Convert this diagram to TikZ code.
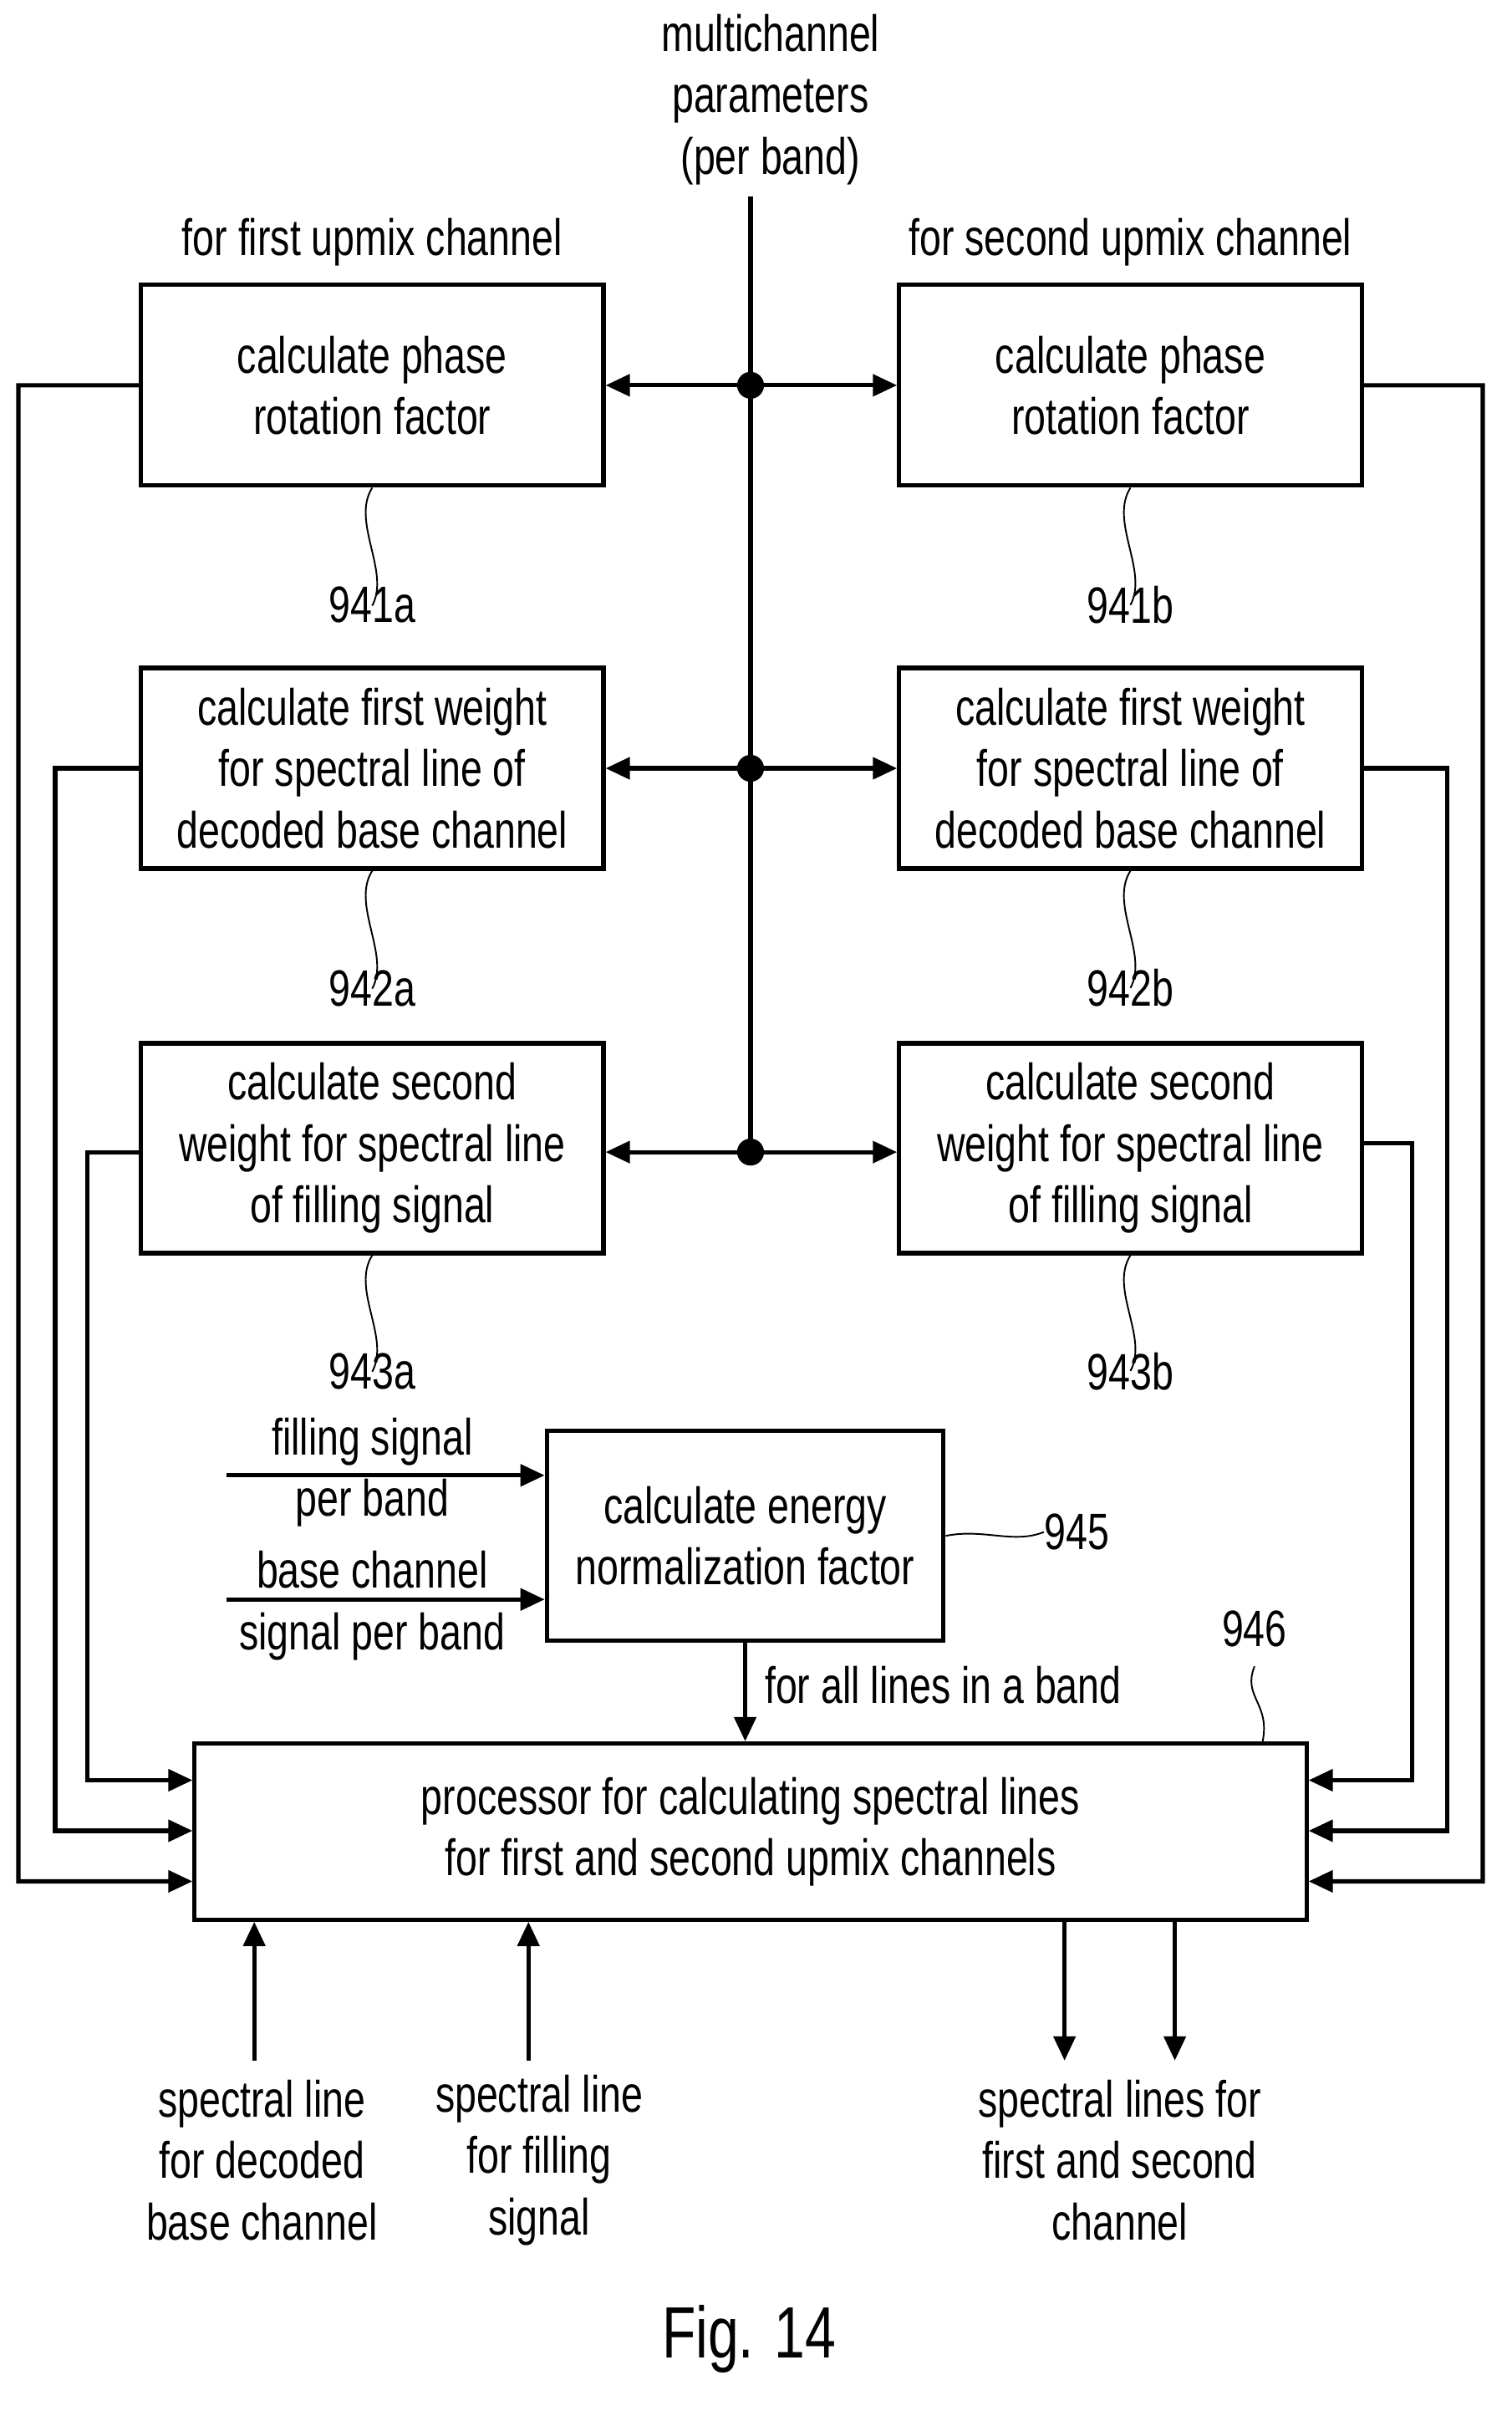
\documentclass[tikz,border=0pt]{standalone}
\usepackage{fontspec}
\setmainfont{Liberation Sans}[FakeStretch=0.76]
\usetikzlibrary{calc,arrows.meta}
\tikzset{
  box/.style={draw, line width=1.6pt, minimum width=6.04cm, align=center, inner sep=0pt},
  lbl/.style={align=center, inner sep=0pt},
  sig/.style={line width=1.6pt},
  arr/.style={line width=1.6pt, -{Triangle[length=9pt,width=8pt]}},
  darr/.style={line width=1.6pt, {Triangle[length=9pt,width=8pt]}-{Triangle[length=9pt,width=8pt]}},
  ref/.style={line width=0.6pt},
}
\begin{document}
\begin{tikzpicture}[x=0.02cm, y=-0.02cm, font=\fontsize{19}{22.8}\selectfont]
		\useasboundingbox (0,0) rectangle (987,1577);
		% Inputs at top
		\node[lbl] (mcp) at (503,65) {multichannel\\parameters\\(per band)} ;
		\node[lbl] (first) at (243,158) {for first upmix channel} ;
		\node[lbl] (second) at (738,158) {for second upmix channel} ;
		% Left column
		\node[box, minimum height=2.62cm] (rotA) at (243,251.5) {calculate phase\\rotation factor} ;
		\node[box, minimum height=2.62cm] (wOneA) at (243,501.5) {calculate first weight\\for spectral line of\\decoded base channel} ;
		\node[box, minimum height=2.74cm] (wTwoA) at (243,749.5) {calculate second\\weight for spectral line\\of filling signal} ;
		% Right column
		\node[box, minimum height=2.62cm] (rotB) at (738,251.5) {calculate phase\\rotation factor} ;
		\node[box, minimum height=2.62cm] (wOneB) at (738,501.5) {calculate first weight\\for spectral line of\\decoded base channel} ;
		\node[box, minimum height=2.74cm] (wTwoB) at (738,749.5) {calculate second\\weight for spectral line\\of filling signal} ;
		% Reference numerals
		\node[lbl] (n941a) at (243,395) {941a} ;
		\node[lbl] (n942a) at (243,645) {942a} ;
		\node[lbl] (n943a) at (243,895) {943a} ;
		\node[lbl] (n941b) at (738,395) {941b} ;
		\node[lbl] (n942b) at (738,645) {942b} ;
		\node[lbl] (n943b) at (738,895) {943b} ;
		\foreach \b/\n in {rotA/n941a, wOneA/n942a, wTwoA/n943a, rotB/n941b, wOneB/n942b, wTwoB/n943b}
			\draw[ref] (\b.south) .. controls +(-14,22) and +(12,-22) .. ([yshift=-0.25cm]\n.north) ;
		% Energy normalization
		\node[box, minimum width=5.18cm, minimum height=2.74cm] (energy) at (486.5,1002.5) {calculate energy\\normalization factor} ;
		\node[lbl] (fill) at (243,961) {filling signal\\per band} ;
		\node[lbl] (base) at (243,1048) {base channel\\signal per band} ;
		\coordinate (fillIn) at (148,963) ;
		\coordinate (baseIn) at (148,1044) ;
		\draw[arr] (fillIn) -- (fillIn -| energy.west) ;
		\draw[arr] (baseIn) -- (baseIn -| energy.west) ;
		\node[lbl] (n945) at (703,1000) {945} ;
		\draw[ref] (energy.east) .. controls +(25,-5) and +(-20,8) .. (n945.west) ;
		% Processor
		\node[box, minimum width=14.52cm, minimum height=2.3cm] (proc) at (490,1195.5) {processor for calculating spectral lines\\for first and second upmix channels} ;
		\draw[arr] (energy.south) -- (energy.south |- proc.north) ;
		\node[lbl, anchor=west] (allLines) at (499,1100) {for all lines in a band} ;
		\node[lbl] (n946) at (819,1063) {946} ;
		\draw[ref] ([xshift=-0.6cm]proc.north east) .. controls +(5,-25) and +(-8,20) .. ([yshift=-0.25cm]n946.south) ;
		% Multichannel parameter distribution
		\coordinate (mcpIn) at (490,128) ;
		\coordinate (d1) at (490,251.5) ;
		\coordinate (d2) at (490,501.5) ;
		\coordinate (d3) at (490,752) ;
		\draw[sig] (mcpIn) -- (d3) ;
		\draw[darr] (rotA.east) -- (rotB.west) ;
		\draw[darr] (wOneA.east) -- (wOneB.west) ;
		\draw[darr] (d3 -| wTwoA.east) -- (d3 -| wTwoB.west) ;
		\foreach \d in {d1,d2,d3} \fill (\d) circle (5pt) ;
		% Feedback into processor
		\draw[arr] (rotA.west) -| (12,1228) -- ($(proc.west)+(0,32.5)$) ;
		\draw[arr] (wOneA.west) -| (36,1195) -- ($(proc.west)+(0,-0.5)$) ;
		\draw[arr] (d3 -| wTwoA.west) -| (57,1162) -- ($(proc.west)+(0,-33.5)$) ;
		\draw[arr] (rotB.east) -| (968,1228) -- ($(proc.east)+(0,32.5)$) ;
		\draw[arr] (wOneB.east) -| (945,1195) -- ($(proc.east)+(0,-0.5)$) ;
		\draw[arr] ($(wTwoB.east)+(0,-3.5)$) -| (922,1162) -- ($(proc.east)+(0,-33.5)$) ;
		% Bottom signals
		\coordinate (lineBase) at (166,1345) ;
		\coordinate (lineFill) at (345,1345) ;
		\coordinate (outOne) at (695,1345) ;
		\coordinate (outTwo) at (767,1345) ;
		\draw[arr] (lineBase) -- (lineBase |- proc.south) ;
		\draw[arr] (lineFill) -- (lineFill |- proc.south) ;
		\draw[arr] (outOne |- proc.south) -- (outOne) ;
		\draw[arr] (outTwo |- proc.south) -- (outTwo) ;
		\node[lbl] (lblBase) at (171,1410) {spectral line\\for decoded\\base channel} ;
		\node[lbl] (lblFill) at (352,1410) {spectral line\\for filling\\signal} ;
		\node[lbl] (lblOut) at (731,1410) {spectral lines for\\first and second\\channel} ;
		\node[lbl, font=\fontsize{27}{30}\selectfont] (fig) at (489,1527) {Fig. 14} ;
	\end{tikzpicture}
\end{document}
